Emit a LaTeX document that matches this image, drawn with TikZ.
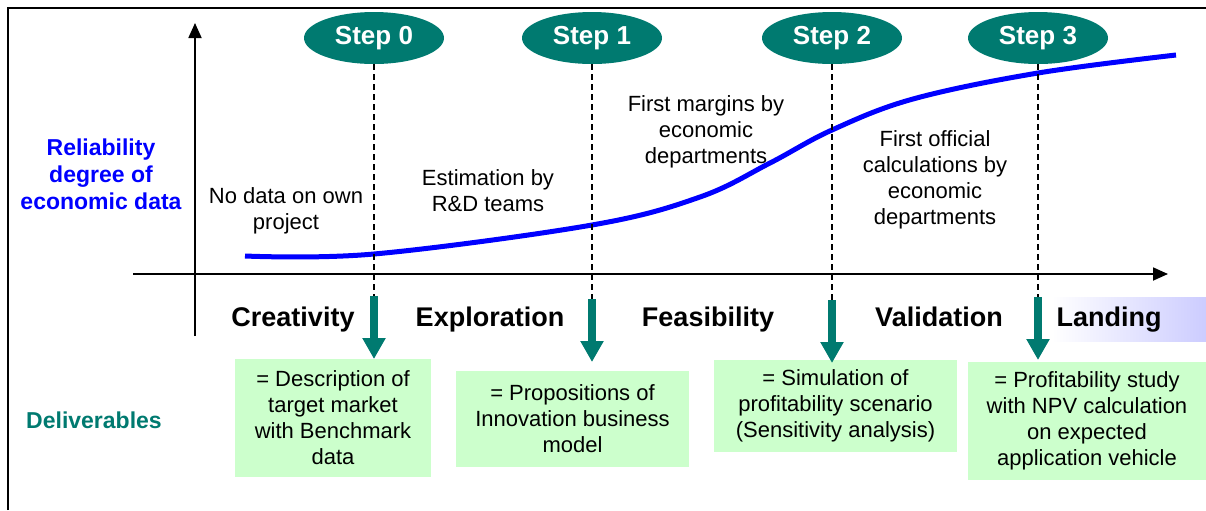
\documentclass[tikz,border=0pt]{standalone}
\usepackage{fontspec}
\setmainfont{Liberation Sans}
\usetikzlibrary{arrows.meta,shapes.geometric}
\definecolor{stepteal}{RGB}{0,122,112}
\definecolor{delgreen}{RGB}{204,255,204}
\definecolor{landblue}{RGB}{204,204,255}
\newcommand{\txtsize}{\fontsize{11}{13}\selectfont}
\tikzset{
  stepnode/.style={ellipse, fill=stepteal, text=white, font=\fontsize{13}{15}\selectfont\bfseries,
    minimum width=70pt, minimum height=26pt, inner sep=0pt},
  delbox/.style={fill=delgreen, align=center, font=\txtsize, inner sep=0pt},
  phase/.style={anchor=base, font=\fontsize{13.5}{16}\selectfont\bfseries},
  note/.style={align=center, font=\txtsize},
  guide/.style={dash pattern=on 3pt off 2pt, line width=0.6pt},
  delarrow/.style={stepteal, line width=3.8pt, -{Triangle[width=11pt,length=10.5pt]}},
  axis/.style={line width=0.9pt, -{Triangle[width=6.5pt,length=7.5pt]}}
}

\begin{document}
\begin{tikzpicture}[x=0.5pt,y=-0.5pt]
  \useasboundingbox (0,0) rectangle (1206,510);
  \draw[line width=1pt] (8,510) -- (8,8) -- (1206,8);

  % axes
  \coordinate (yfoot) at (195,336);
  \coordinate (ytop) at (195,23);
  \coordinate (xleft) at (133,274);
  \coordinate (xright) at (1168,274);
  \draw[axis] (yfoot) -- (ytop);
  \draw[axis] (xleft) -- (xright);

  \node[align=center, text=blue, font=\fontsize{11.5}{13.5}\selectfont\bfseries] (ylabel) at (101,174)
    {Reliability\\degree of\\economic data};
  \node[text=stepteal, font=\fontsize{11.5}{13}\selectfont\bfseries] (dlabel) at (94,420) {Deliverables};

  % reliability curve
  \draw[blue, line width=2.5pt] plot[smooth, tension=0.6] coordinates
    {(245,256) (374,254) (592,225) (700,197) (770,163) (832,130)
     (913,99) (1038,73) (1176,55)};

  \node[note] (n0) at (286,211) {No data on own\\project};
  \node[note] (n1) at (488,191) {Estimation by\\R\&D teams};
  \node[note] (n2) at (706,132) {First margins by\\economic\\departments};
  \node[note] (n3) at (935,180) {First official\\calculations by\\economic\\departments};

  % steps
  \node[stepnode] (s0) at (374,38) {Step 0};
  \node[stepnode] (s1) at (592,38) {Step 1};
  \node[stepnode] (s2) at (832,38) {Step 2};
  \node[stepnode] (s3) at (1038,38) {Step 3};

  \coordinate (a0) at (374,296);
  \coordinate (a1) at (592,299);
  \coordinate (a2) at (832,300);
  \coordinate (a3) at (1038,297);
  \coordinate (b0) at (374,359);
  \coordinate (b1) at (592,362);
  \coordinate (b2) at (832,363);
  \coordinate (b3) at (1038,360);

  \draw[guide] (s0.south) -- (a0);
  \draw[guide] (s1.south) -- (a1);
  \draw[guide] (s2.south) -- (a2);
  \draw[guide] (s3.south) -- (a3);

  % phases
  \shade[left color=white, right color=landblue] (1052,297) rectangle (1206,341);
  \node[phase] (p0) at (293,326) {Creativity};
  \node[phase] (p1) at (490,326) {Exploration};
  \node[phase] (p2) at (708,326) {Feasibility};
  \node[phase] (p3) at (939,326) {Validation};
  \node[phase] (p4) at (1109,326) {Landing};

  % deliverables
  \node[delbox, minimum width=98pt, minimum height=59pt] (d0) at (333,418)
    {= Description of\\target market\\with Benchmark\\data};
  \node[delbox, minimum width=116.5pt, minimum height=48pt] (d1) at (572.5,419)
    {= Propositions of\\Innovation business\\model};
  \node[delbox, minimum width=121.5pt, minimum height=46pt] (d2) at (835.5,406)
    {= Simulation of\\profitability scenario\\(Sensitivity analysis)};
  \node[delbox, minimum width=119pt, minimum height=59pt] (d3) at (1087,421)
    {= Profitability study\\with NPV calculation\\on expected\\application vehicle};

  \draw[delarrow] (a0) -- (b0);
  \draw[delarrow] (a1) -- (b1);
  \draw[delarrow] (a2) -- (b2);
  \draw[delarrow] (a3) -- (b3);
\end{tikzpicture}
\end{document}
